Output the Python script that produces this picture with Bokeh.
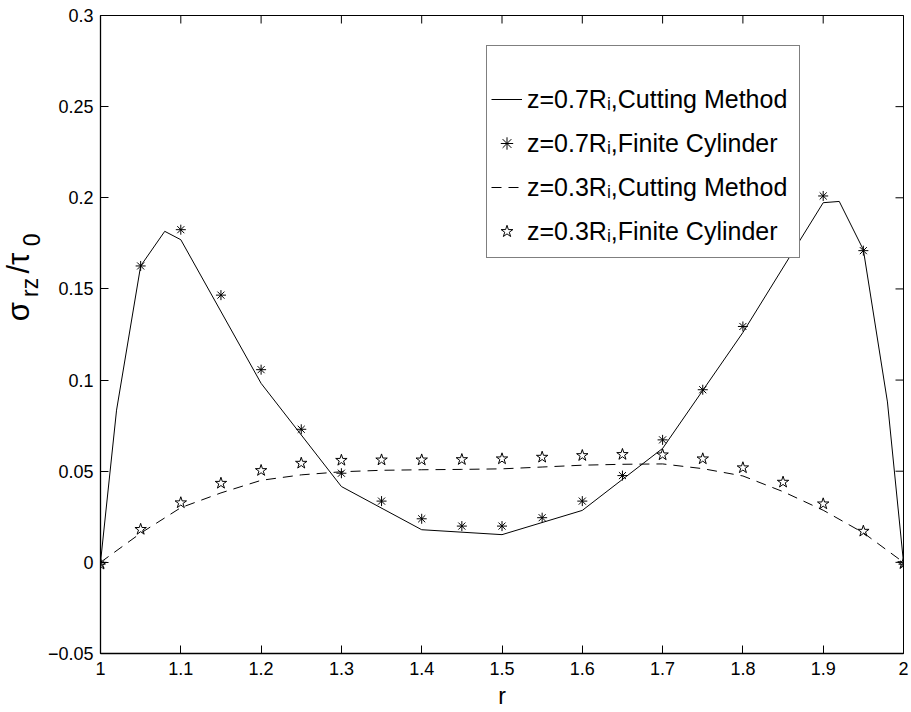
from math import pi
from bokeh.plotting import figure
from bokeh.layouts import row
from bokeh.models import Legend, LegendItem, Range1d, FixedTicker
from bokeh.core.properties import value
from bokeh.embed import file_html
from bokeh.resources import INLINE

# ---- data ----
r_cut_07 = [1.0, 1.02, 1.05, 1.08, 1.1, 1.2, 1.3, 1.4, 1.5, 1.6, 1.7, 1.8, 1.9, 1.92, 1.95, 1.98, 2.0]
sig_cut_07 = [0.0, 0.0835, 0.1626, 0.1816, 0.177, 0.0982, 0.0416, 0.0179, 0.0152, 0.0285,
              0.0625, 0.1261, 0.1973, 0.198, 0.1715, 0.088, 0.0]

r_grid = [1.0, 1.05, 1.1, 1.15, 1.2, 1.25, 1.3, 1.35, 1.4, 1.45, 1.5, 1.55, 1.6, 1.65, 1.7,
          1.75, 1.8, 1.85, 1.9, 1.95, 2.0]
sig_fc_07 = [-0.001, 0.1626, 0.1825, 0.1466, 0.1057, 0.073, 0.0489, 0.0336, 0.0239, 0.0199,
             0.0199, 0.0245, 0.0336, 0.0476, 0.0672, 0.0947, 0.1294, 0.175, 0.201, 0.171, -0.001]
sig_cut_03 = [0.0, 0.016, 0.030, 0.0381, 0.045, 0.048, 0.0497, 0.0505, 0.0508, 0.051, 0.0513,
              0.0523, 0.0533, 0.0538, 0.054, 0.0514, 0.0474, 0.0388, 0.0286, 0.0162, 0.0]
sig_fc_03 = [-0.001, 0.0181, 0.0327, 0.0434, 0.0504, 0.0544, 0.056, 0.0562, 0.0562, 0.0564,
             0.0568, 0.0577, 0.0586, 0.0592, 0.059, 0.0568, 0.0519, 0.044, 0.0321, 0.0171, -0.0007]

x_ticks = [1.0, 1.1, 1.2, 1.3, 1.4, 1.5, 1.6, 1.7, 1.8, 1.9, 2.0]
x_tick_labels = ["1", "1.1", "1.2", "1.3", "1.4", "1.5", "1.6", "1.7", "1.8", "1.9", "2"]
y_ticks = [-0.05, 0.0, 0.05, 0.1, 0.15, 0.2, 0.25, 0.3]
y_tick_labels = ["\u22120.05", "0", "0.05", "0.1", "0.15", "0.2", "0.25", "0.3"]

legend_labels = ["z=0.7R\u1d62,Cutting Method", "z=0.7R\u1d62,Finite Cylinder",
                 "z=0.3R\u1d62,Cutting Method", "z=0.3R\u1d62,Finite Cylinder"]
x_label = "r"
y_label_main = ["\u03c3", "/\u03c4"]      # sigma, /tau
y_label_sub = ["rz", "0"]                 # their subscripts

FONT = "Liberation Sans"
H = 711
LAB_W = 44

x_lo, x_hi = x_ticks[0], x_ticks[-1]
y_lo, y_hi = y_ticks[0], y_ticks[-1]

p = figure(width=911 - LAB_W - 2, height=H, output_backend="svg", toolbar_location=None,
           x_range=Range1d(x_lo, x_hi), y_range=Range1d(y_lo, y_hi),
           min_border_left=97 - LAB_W, min_border_right=6, min_border_top=15,
           min_border_bottom=57)
p.xgrid.visible = False
p.ygrid.visible = False
p.outline_line_color = "black"
p.outline_line_width = 1
p.background_fill_color = "white"
p.border_fill_color = "white"

def style_axis(ax, ticks, labels):
    ax.ticker = FixedTicker(ticks=ticks, minor_ticks=[])
    ax.major_tick_in = 8
    ax.major_tick_out = 0
    ax.minor_tick_in = 0
    ax.minor_tick_out = 0
    ax.axis_line_color = "black"
    ax.axis_line_width = 1.3
    ax.major_tick_line_color = "black"
    ax.major_tick_line_width = 1
    ax.major_label_overrides = {t: s for t, s in zip(ticks, labels)}
    ax.major_label_text_font = FONT
    ax.major_label_text_font_size = "18px"
    ax.major_label_text_color = "black"

style_axis(p.xaxis[0], x_ticks, x_tick_labels)
p.xaxis[0].major_label_standoff = 8
p.xaxis[0].axis_label = x_label
p.xaxis[0].axis_label_text_font = FONT
p.xaxis[0].axis_label_text_font_size = "23px"
p.xaxis[0].axis_label_text_font_style = "normal"
p.xaxis[0].axis_label_text_color = "black"
p.xaxis[0].axis_label_standoff = 5
style_axis(p.yaxis[0], y_ticks, y_tick_labels)
p.yaxis[0].major_label_standoff = 7

# mirrored inward ticks on the top and right edges (the outer half is clipped by the frame)
p.scatter(x_ticks, [y_hi] * len(x_ticks), marker="dash", size=16, angle=pi / 2,
          line_color="black", line_width=1)
p.scatter([x_hi] * len(y_ticks), y_ticks, marker="dash", size=16,
          line_color="black", line_width=1)

l1 = p.line(r_cut_07, sig_cut_07, line_color="black", line_width=1)
m1 = p.scatter(r_grid, sig_fc_07, marker="asterisk", size=10, line_color="black", line_width=1)
l2 = p.line(r_grid, sig_cut_03, line_color="black", line_width=1, line_dash="10 7")
m2 = p.scatter(r_grid, sig_fc_03, marker="star", size=12, line_color="black", line_width=1,
               fill_color=None)

legend = Legend(items=[LegendItem(label=legend_labels[0], renderers=[l1]),
                       LegendItem(label=legend_labels[1], renderers=[m1]),
                       LegendItem(label=legend_labels[2], renderers=[l2]),
                       LegendItem(label=legend_labels[3], renderers=[m2])],
                location=(386, 395), padding=4, spacing=0,
                glyph_width=31, glyph_height=44, label_height=44, label_width=268,
                label_standoff=5, label_text_font=FONT, label_text_font_size="25px",
                label_text_color="black",
                border_line_color="black", border_line_width=1,
                background_fill_color="white", background_fill_alpha=1,
                title=" ", title_text_font_size="20px", title_standoff=4)
p.add_layout(legend)

# narrow panel to the left carrying the rotated y-axis label  sigma_rz / tau_0
lab = figure(width=LAB_W, height=H, output_backend="svg", toolbar_location=None,
             x_range=Range1d(0, LAB_W), y_range=Range1d(0, H),
             x_axis_location=None, y_axis_location=None, min_border=0)
lab.xgrid.visible = False
lab.ygrid.visible = False
lab.outline_line_color = None
lab.background_fill_color = "white"
lab.border_fill_color = "white"
# layout: centre of each piece in page pixels (x from left, y from top)
main_cx = [17.5, 18]
main_cy = [330, 276]
sub_cx = [29, 31]
sub_cy = [303, 250]
lab.text(x=main_cx, y=[H - c for c in main_cy], text=y_label_main, angle=pi / 2,
         text_font=value(FONT), text_font_size="31px", text_color="black",
         text_align="center", text_baseline="middle")
lab.text(x=sub_cx, y=[H - c for c in sub_cy], text=y_label_sub, angle=pi / 2,
         text_font=value(FONT), text_font_size="23px", text_color="black",
         text_align="center", text_baseline="middle")

layout = row(lab, p)
open("out.html", "w").write(file_html(layout, INLINE))
